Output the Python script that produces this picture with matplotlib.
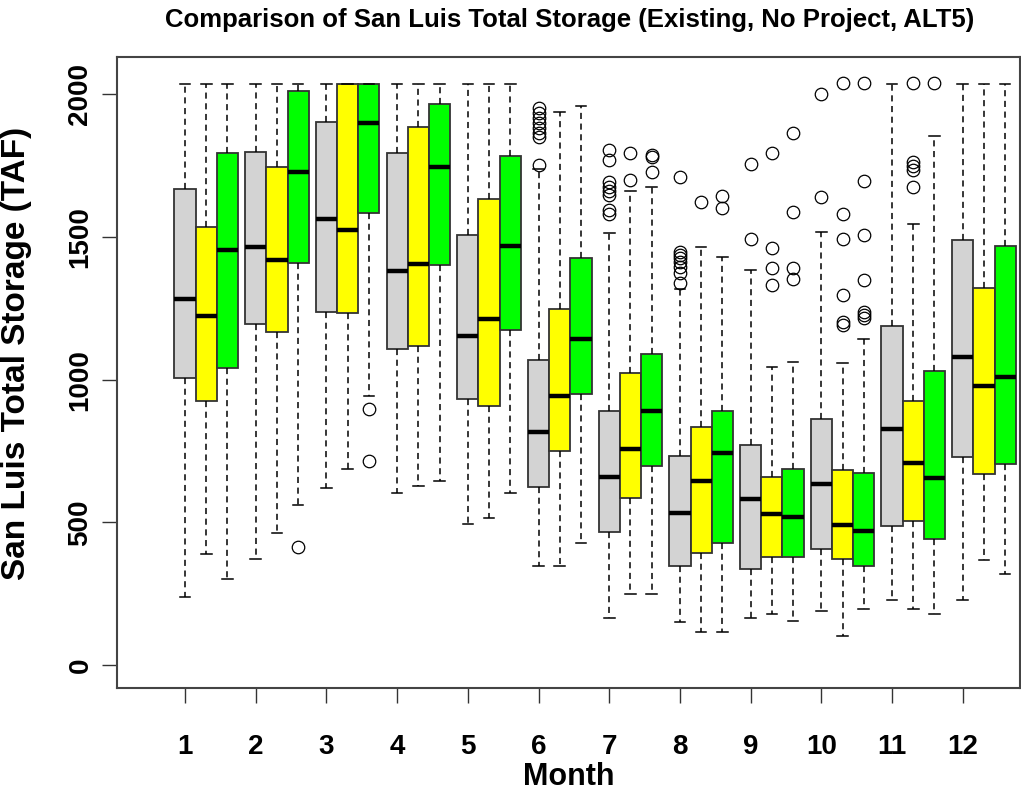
import matplotlib
matplotlib.use("Agg")
import matplotlib.pyplot as plt
import numpy as np

plt.rcParams['font.family'] = ['Liberation Sans', 'DejaVu Sans']
plt.rcParams['font.weight'] = 'bold'

months = ["1", "2", "3", "4", "5", "6", "7", "8", "9", "10", "11", "12"]
series_names = ["Existing", "No Project", "ALT5"]
series_colors = ["#D3D3D3", "#FFFF00", "#00FF00"]

# Existing (gray)
ex_lo = [239, 372, 620, 604, 495, 348, 165, 150, 165, 190, 229, 229]
ex_q1 = [1005, 1194, 1237, 1109, 931, 624, 466, 347, 338, 407, 487, 728]
ex_med = [1282, 1464, 1563, 1380, 1153, 817, 659, 532, 581, 633, 826, 1080]
ex_q3 = [1667, 1799, 1904, 1795, 1508, 1069, 891, 733, 772, 861, 1188, 1490]
ex_hi = [2036, 2036, 2036, 2036, 2036, 1740, 1513, 1317, 1385, 1516, 2036, 2036]
ex_out = [[], [], [], [], [],
          [1951, 1934, 1916, 1899, 1881, 1864, 1852, 1753],
          [1805, 1770, 1694, 1677, 1660, 1648, 1595, 1580],
          [1709, 1449, 1437, 1425, 1414, 1396, 1373, 1338],
          [1755, 1494],
          [2000, 1639],
          [], []]

# No Project (yellow)
np_lo = [388, 462, 688, 629, 516, 348, 249, 116, 180, 102, 195, 367]
np_q1 = [925, 1168, 1233, 1118, 907, 749, 585, 393, 377, 372, 506, 668]
np_med = [1222, 1420, 1524, 1404, 1213, 942, 757, 645, 529, 490, 708, 977]
np_q3 = [1536, 1744, 2036, 1885, 1635, 1247, 1025, 835, 658, 683, 925, 1320]
np_hi = [2036, 2036, 2036, 2036, 2036, 1938, 1660, 1464, 1046, 1057, 1546, 2036]
np_out = [[], [], [], [], [], [],
          [1793, 1700],
          [1624],
          [1793, 1463, 1390, 1332],
          [2041, 1582, 1494, 1297, 1203, 1192],
          [2041, 1764, 1749, 1735, 1674],
          []]

# ALT5 (green)
a5_lo = [303, 561, 942, 644, 604, 427, 249, 116, 155, 195, 180, 319]
a5_q1 = [1040, 1410, 1583, 1401, 1173, 951, 697, 427, 377, 348, 440, 703]
a5_med = [1455, 1727, 1900, 1746, 1469, 1143, 891, 743, 520, 471, 654, 1011]
a5_q3 = [1795, 2013, 2036, 1968, 1785, 1425, 1089, 890, 688, 673, 1030, 1469]
a5_hi = [2036, 2036, 2036, 2036, 2036, 1958, 1674, 1429, 1063, 1143, 1855, 2036]
a5_out = [[], [414], [897, 716], [], [], [],
          [1788, 1782, 1729],
          [1645, 1601],
          [1866, 1586, 1390, 1353],
          [2041, 1696, 1507, 1349, 1238, 1226, 1215],
          [2041],
          []]

yticks = [0, 500, 1000, 1500, 2000]

all_series = [
    (ex_lo, ex_q1, ex_med, ex_q3, ex_hi, ex_out),
    (np_lo, np_q1, np_med, np_q3, np_hi, np_out),
    (a5_lo, a5_q1, a5_med, a5_q3, a5_hi, a5_out),
]

W, H = 1021, 792
fig = plt.figure(figsize=(W / 100, H / 100), dpi=100)
ax = fig.add_axes([117 / W, 1 - 688 / H, (1020 - 117) / W, (688 - 57) / H])

box_w = 0.3
month_pos = np.arange(1, 13)
for s, (lo, q1, med, q3, hi, out) in enumerate(all_series):
    stats = []
    for i in range(12):
        stats.append(dict(med=med[i], q1=q1[i], q3=q3[i], whislo=lo[i], whishi=hi[i],
                          fliers=out[i]))
    pos = month_pos + s * box_w
    ax.bxp(stats, positions=pos, widths=box_w, capwidths=box_w / 2, patch_artist=True,
           showfliers=True, manage_ticks=False,
           boxprops=dict(facecolor=series_colors[s], edgecolor="#333333", linewidth=1.3),
           medianprops=dict(color="black", linewidth=3.2, solid_capstyle="butt"),
           whiskerprops=dict(color="black", linewidth=1.1, linestyle=(0, (4, 3))),
           capprops=dict(color="black", linewidth=1.1),
           flierprops=dict(marker="o", markersize=9, markerfacecolor="none",
                           markeredgecolor="black", markeredgewidth=0.9, linestyle="none"))

ax.set_xlim(0.038, 12.81)
ax.set_ylim(-80.6, 2131)
ax.set_xticks(month_pos)
ax.set_xticklabels(months, fontsize=20, fontweight="bold")
ax.set_yticks(yticks)
ax.set_yticklabels([str(v) for v in yticks], fontsize=20, fontweight="bold",
                   rotation=90, va="center")
ax.tick_params(axis="both", direction="out", length=11, width=1, color="#333333")
ax.tick_params(axis="x", pad=22)
ax.tick_params(axis="y", pad=6)
for sp in ax.spines.values():
    sp.set_color("#444444")
    sp.set_linewidth(1.5)

xl = ax.set_xlabel("Month", fontsize=22, fontweight="bold")
ax.xaxis.set_label_coords(0.5, -0.141)
xl.set_va("center")
ax.set_ylabel("San Luis Total Storage (TAF)", fontsize=24, fontweight="bold")
ax.yaxis.set_label_coords(-0.094, 0.53)
fig.text(0.558, 0.975, "Comparison of San Luis Total Storage (Existing, No Project, ALT5)",
         ha="center", va="center", fontsize=18.5, fontweight="bold")

fig.savefig("out.png", dpi=100)
